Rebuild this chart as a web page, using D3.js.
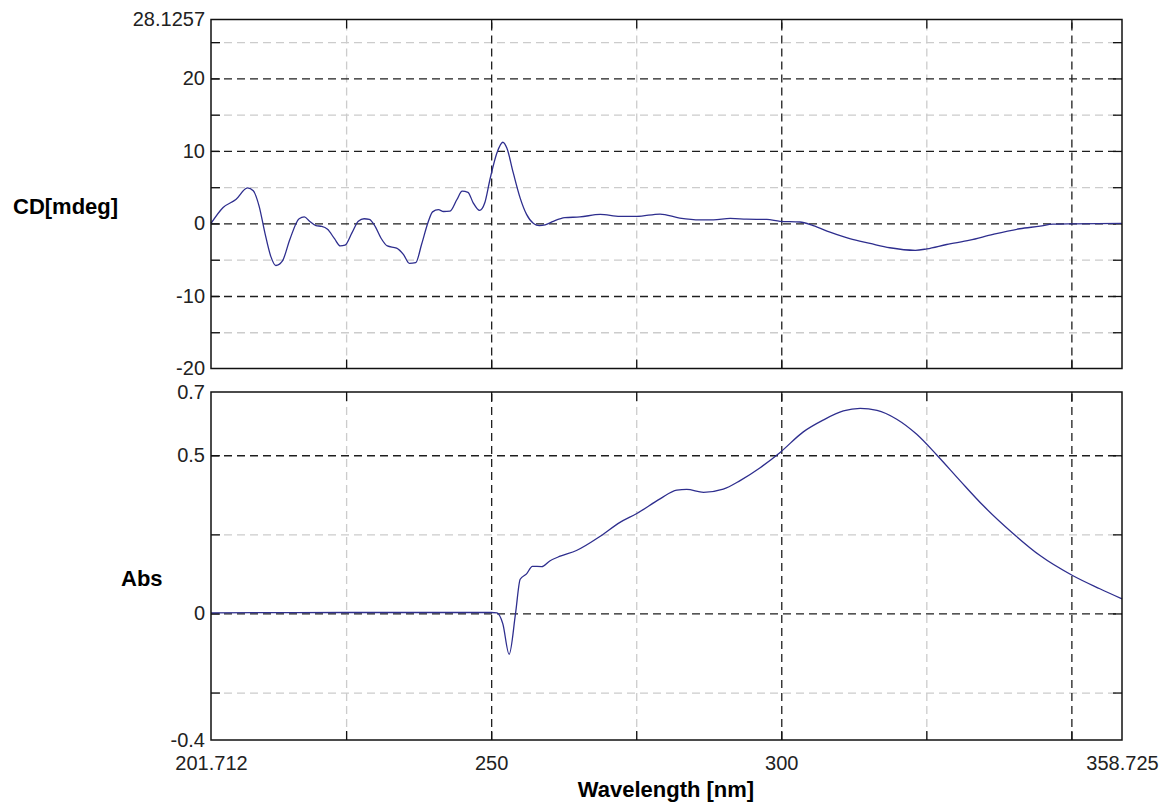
<!DOCTYPE html>
<html>
<head>
<meta charset="utf-8">
<script src="https://cdn.jsdelivr.net/npm/d3@7"></script>
<style>
  html, body { margin: 0; padding: 0; background: #fff; }
  svg { display: block; font-family: "Liberation Sans", Arial, sans-serif; }
  .tick text { fill: #222; }
</style>
</head>
<body>
<svg id="chart" width="1166" height="806"></svg>
<script>
// Wavelength axis (nm)
const xDomain = [201.712, 358.725];
const xMajor = [250, 300, 350];
const xMinor = [225, 275, 325];
const xLabels = [201.712, 250, 300, 358.725];

// CD spectrum (mdeg)
const cdWavelength = [201.712, 203.8, 206.0, 208.0, 209.0, 210.0, 211.0, 212.0, 212.9, 214.0,
  215.3, 216.9, 217.8, 218.7, 219.8, 220.8, 221.8, 223.0, 224.0, 224.8,
  226.0, 227.1, 228.1, 229.0, 230.0, 231.0, 232.1, 233.7, 234.9, 235.9,
  237.0, 238.0, 239.1, 239.9, 240.9, 241.8, 242.9, 244.1, 245.0, 246.0,
  246.9, 248.0, 248.9, 249.8, 251.0, 252.0, 252.7, 253.8, 255.0, 256.1,
  257.3, 258.3, 259.3, 260.7, 262.7, 265.3, 268.8, 272.2, 275.1, 279.1,
  282.5, 286.0, 288.3, 291.2, 294.0, 297.5, 299.8, 303.2, 305.5, 308.4,
  311.8, 315.3, 318.7, 323.1, 325.1, 328.5, 332.5, 336.5, 341.1, 344.6,
  346.8, 350.3, 358.725];
const cdValues = [0, 2.2, 3.3, 4.9, 4.5, 2.4, -1.3, -4.5, -5.8, -5.2,
  -2.2, 0.65, 0.9, 0.3, -0.3, -0.4, -0.8, -2.1, -3.1, -3.0,
  -1.3, 0.3, 0.65, 0.55, -0.4, -2.0, -3.1, -3.4, -4.3, -5.5,
  -5.4, -2.9, 0.1, 1.6, 1.9, 1.65, 1.7, 3.3, 4.45, 4.3,
  2.85, 1.8, 2.85, 6.1, 9.75, 11.2, 10.4, 7.0, 3.5, 1.25,
  0, -0.3, -0.2, 0.3, 0.8, 0.9, 1.25, 0.97, 0.97, 1.3,
  0.75, 0.5, 0.5, 0.7, 0.6, 0.55, 0.3, 0.2, -0.3, -1.2,
  -2.1, -2.75, -3.35, -3.7, -3.5, -2.9, -2.3, -1.5, -0.73, -0.37,
  -0.1, -0.05, 0];
const cdDomain = [-20, 28.1257];
const cdMajor = [-10, 0, 10, 20];
const cdMinor = [-15, -5, 5, 15, 25];
const cdLabels = [-20, -10, 0, 10, 20, 28.1257];

// Absorbance spectrum
const absWavelength = [201.712, 225, 250, 251.0, 252.0, 253.1, 254.2, 255.0, 256.1, 257.1,
  258.7, 260.1, 261.9, 264.7, 268.8, 272.2, 275.1, 279.1, 282.0, 283.7,
  286.6, 290.0, 292.9, 296.3, 299.8, 303.8, 307.2, 310.7, 313.6, 316.5,
  319.9, 323.3, 326.8, 330.8, 334.8, 340.0, 344.6, 350.2, 354.9, 358.725];
const absValues = [0.002, 0.003, 0.003, 0.002, -0.032, -0.129, 0, 0.108, 0.125, 0.149,
  0.148, 0.166, 0.181, 0.199, 0.244, 0.288, 0.316, 0.362, 0.390, 0.392,
  0.383, 0.393, 0.420, 0.460, 0.509, 0.574, 0.611, 0.640, 0.648, 0.642,
  0.614, 0.567, 0.501, 0.420, 0.341, 0.252, 0.183, 0.120, 0.078, 0.046];
const absDomain = [-0.4, 0.7];
const absMajor = [0, 0.5];
const absMinor = [-0.25, 0.25];
const absLabels = [-0.4, 0, 0.5, 0.7];

const svg = d3.select("#chart");
const left = 211, right = 1122;
const x = d3.scaleLinear().domain(xDomain).range([left, right]);
const W = right - left;

function fmt(v) { return String(v); }

function panel(opts) {
  const { top, bottom, yDomain, major, minor, labels, data, curve, showX } = opts;
  const H = bottom - top;
  const y = d3.scaleLinear().domain(yDomain).range([bottom, top]);
  const g = svg.append("g");

  // gridlines: minor (light grey) then major (dark)
  const grid = (vals, cls, color, dash, w) => {
    g.append("g").attr("transform", `translate(0,${bottom})`)
      .call(d3.axisBottom(x).tickValues(vals).tickSize(-H).tickFormat(""))
      .call(s => s.select(".domain").remove())
      .call(s => s.selectAll("line").attr("stroke", color).attr("stroke-dasharray", dash).attr("stroke-width", w));
    g.append("g").attr("transform", `translate(${left},0)`)
      .call(d3.axisLeft(y).tickValues(cls).tickSize(-W).tickFormat(""))
      .call(s => s.select(".domain").remove())
      .call(s => s.selectAll("line").attr("stroke", color).attr("stroke-dasharray", dash).attr("stroke-width", w));
  };
  grid(xMinor, minor, "#cccccc", "8,5", 1.3);
  grid(xMajor, major, "#1e1e1e", "8,5", 1.3);

  // inward tick marks on all four sides
  const allY = major.concat(minor);
  const allX = xMajor.concat(xMinor);
  const tickStyle = s => {
    s.select(".domain").remove();
    s.selectAll("line").attr("stroke", "#111").attr("stroke-width", 1.3);
  };
  g.append("g").attr("transform", `translate(${left},0)`)
    .call(d3.axisLeft(y).tickValues(allY).tickSize(-9).tickFormat("")).call(tickStyle);
  g.append("g").attr("transform", `translate(${right},0)`)
    .call(d3.axisRight(y).tickValues(allY).tickSize(-9).tickFormat("")).call(tickStyle);
  g.append("g").attr("transform", `translate(0,${bottom})`)
    .call(d3.axisBottom(x).tickValues(allX).tickSize(-9).tickFormat("")).call(tickStyle);
  g.append("g").attr("transform", `translate(0,${top})`)
    .call(d3.axisTop(x).tickValues(allX).tickSize(-9).tickFormat("")).call(tickStyle);

  // y tick labels
  g.append("g").attr("transform", `translate(${left},0)`)
    .call(d3.axisLeft(y).tickValues(labels).tickSize(0).tickPadding(6).tickFormat(fmt))
    .call(s => s.select(".domain").remove())
    .call(s => s.selectAll("text").attr("font-size", 20).attr("font-family", "Liberation Sans, Arial, sans-serif"));

  if (showX) {
    g.append("g").attr("transform", `translate(0,${bottom})`)
      .call(d3.axisBottom(x).tickValues(xLabels).tickSize(0).tickPadding(16).tickFormat(fmt))
      .call(s => s.select(".domain").remove())
      .call(s => s.selectAll("text").attr("font-size", 20).attr("font-family", "Liberation Sans, Arial, sans-serif"));
  }

  // spectrum
  const line = d3.line().x(d => x(d[0])).y(d => y(d[1])).curve(curve);
  g.append("path").datum(data)
    .attr("fill", "none").attr("stroke", "#2e2e8e").attr("stroke-width", 1.3)
    .attr("stroke-linejoin", "round")
    .attr("d", line);

  // frame
  g.append("rect").attr("x", left).attr("y", top).attr("width", W).attr("height", H)
    .attr("fill", "none").attr("stroke", "#111").attr("stroke-width", 1.5);
}

panel({
  top: 19.5, bottom: 368.5, yDomain: cdDomain, major: cdMajor, minor: cdMinor, labels: cdLabels,
  data: cdWavelength.map((w, i) => [w, cdValues[i]]), curve: d3.curveMonotoneX, showX: false
});
panel({
  top: 392, bottom: 740, yDomain: absDomain, major: absMajor, minor: absMinor, labels: absLabels,
  data: absWavelength.map((w, i) => [w, absValues[i]]), curve: d3.curveMonotoneX, showX: true
});

// axis titles
svg.append("text").attr("x", 13).attr("y", 214).attr("font-size", 22).attr("font-weight", "bold")
  .attr("fill", "#000").text("CD[mdeg]");
svg.append("text").attr("x", 121).attr("y", 586).attr("font-size", 22).attr("font-weight", "bold")
  .attr("fill", "#000").text("Abs");
svg.append("text").attr("x", 666).attr("y", 797).attr("font-size", 22).attr("font-weight", "bold")
  .attr("text-anchor", "middle").attr("fill", "#000").text("Wavelength [nm]");
</script>
</body>
</html>
